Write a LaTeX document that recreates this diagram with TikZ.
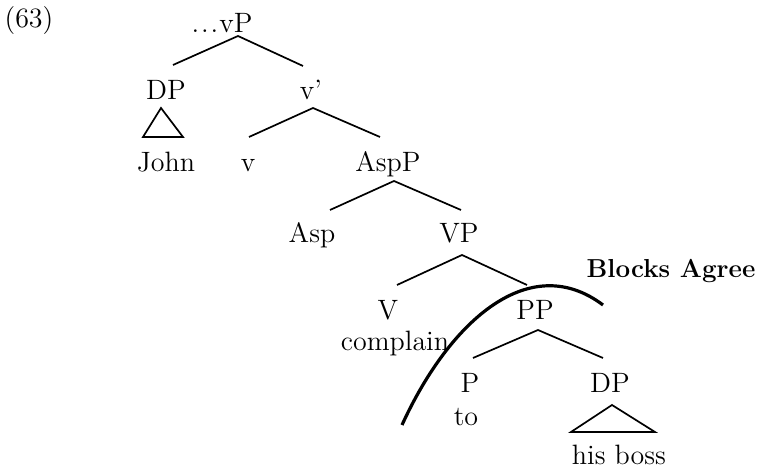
\documentclass[tikz,border=0pt]{standalone}
\begin{document}
\begin{tikzpicture}[x=0.5pt,y=-0.5pt,
  lbl/.style={anchor=base,inner sep=0pt,font=\fontsize{14}{16}\selectfont},
  bold/.style={lbl,font=\fontsize{13}{15}\selectfont\bfseries},
  br/.style={line width=0.85pt},
  arc/.style={line width=1.6pt}]
\useasboundingbox (0,0) rectangle (757,469);
\node[lbl] (ex) at (29,28) {(63)};
\node[lbl] (vP) at (222,33) {.\kern1pt.\kern1pt.\kern0.5pt vP};
\node[lbl] (DPa) at (166,100) {DP};
\node[lbl] (vbar) at (311,100) {v'};
\node[lbl] (John) at (166,172) {John};
\node[lbl] (v) at (248,172) {v};
\node[lbl] (AspP) at (388,172) {AspP};
\node[lbl] (Asp) at (312,243) {Asp};
\node[lbl] (VP) at (459,243) {VP};
\node[lbl] (V) at (388,320) {V};
\node[lbl] (complain) at (395,351) {complain};
\node[lbl] (PP) at (535,320) {PP};
\node[lbl] (P) at (470,393) {P};
\node[lbl] (to) at (466,426) {to};
\node[lbl] (DPb) at (610,393) {DP};
\node[lbl] (boss) at (619,465) {his boss};
\node[bold] (blocks) at (671,278) {Blocks Agree};
% branches
\draw[br] ([shift={(7,-35)}]DPa.base) -- ([shift={(16,3)}]vP.base) -- ([shift={(-8,-34)}]vbar.base);
\draw[br] ([shift={(1,-35)}]v.base) -- ([shift={(2,8)}]vbar.base) -- ([shift={(-8,-35)}]AspP.base);
\draw[br] ([shift={(18,-33)}]Asp.base) -- ([shift={(6,9)}]AspP.base) -- ([shift={(2,-33)}]VP.base);
\draw[br] ([shift={(9,-35)}]V.base) -- ([shift={(3,12)}]VP.base) -- ([shift={(-8,-35)}]PP.base);
\draw[br] ([shift={(3,-35)}]P.base) -- ([shift={(3,10)}]PP.base) -- ([shift={(-7,-35)}]DPb.base);
% triangles
\draw[br] ([shift={(-5,8)}]DPa.base) -- ([shift={(-23,37)}]DPa.base) -- ([shift={(17,37)}]DPa.base) -- cycle;
\draw[br] ([shift={(2,12)}]DPb.base) -- ([shift={(-39,39)}]DPb.base) -- ([shift={(45,39)}]DPb.base) -- cycle;
% blocking arc
\coordinate (arcA) at (402,425);
\coordinate (arcB) at (603,305);
\draw[arc] (arcA) .. controls (450,320) and (530,250) .. (arcB);
\end{tikzpicture}
\end{document}
